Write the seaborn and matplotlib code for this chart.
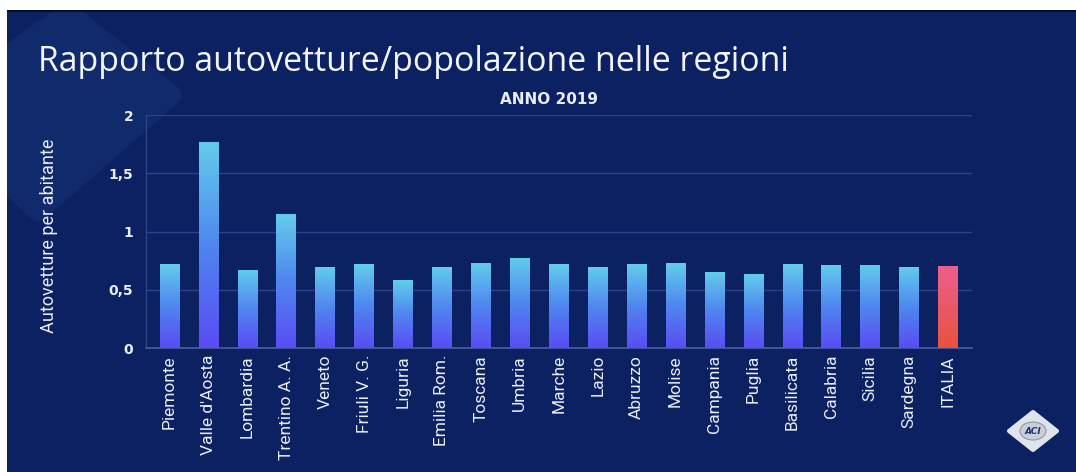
import numpy as np
import pandas as pd
import matplotlib
matplotlib.use("Agg")
import matplotlib.pyplot as plt
import seaborn as sns
from matplotlib.patches import Polygon, Rectangle, Ellipse
from matplotlib.colors import LinearSegmentedColormap

# ---- data -------------------------------------------------------------
regions = ["Piemonte", "Valle d'Aosta", "Lombardia", "Trentino A. A.", "Veneto",
           "Friuli V. G.", "Liguria", "Emilia Rom.", "Toscana", "Umbria",
           "Marche", "Lazio", "Abruzzo", "Molise", "Campania", "Puglia",
           "Basilicata", "Calabria", "Sicilia", "Sardegna", "ITALIA"]
cars_per_inhabitant = [0.72, 1.77, 0.67, 1.15, 0.69, 0.72, 0.58, 0.69, 0.73,
                       0.77, 0.72, 0.69, 0.72, 0.73, 0.65, 0.63, 0.72, 0.71,
                       0.71, 0.69, 0.70]
y_ticks = [0, 0.5, 1, 1.5, 2]
y_tick_labels = ["0", "0,5", "1", "1,5", "2"]

title_text = "Rapporto autovetture/popolazione nelle regioni"
subtitle_text = "ANNO 2019"
y_label_text = "Autovetture per abitante"

# ---- style ------------------------------------------------------------
sns.set_theme(style="white")
plt.rcParams["font.family"] = ["DejaVu Sans"]
NAVY = "#0b2161"
TEXT = "#e8ecf4"
LABEL_FONT = ["Roboto", "DejaVu Sans"]

W, H = 1076, 472
fig = plt.figure(figsize=(W / 100, H / 100), dpi=100, facecolor="white")


def fx(px):
    return px / W


def fy(py):
    return 1 - py / H


# slide background with white margin at the top/left
fig.patches.append(Rectangle((fx(7), 0), 1 - fx(7), fy(10), transform=fig.transFigure,
                             facecolor=NAVY, edgecolor="none", zorder=-3))
fig.patches.append(Rectangle((fx(7), fy(12)), 1 - fx(7), fy(10) - fy(12),
                             transform=fig.transFigure, facecolor="#050f2c",
                             edgecolor="none", zorder=-1))
# soft decorative shape in the top-left corner
deco_pts = [(68, 12), (172, 95), (38, 212), (-70, 110)]
deco = Polygon([(fx(x), fy(y)) for x, y in deco_pts], closed=True,
               transform=fig.transFigure, facecolor="#112a6b", edgecolor="#112a6b",
               linewidth=14, joinstyle="round", zorder=-2)
clip = Rectangle((fx(7), 0), 1 - fx(7), fy(12), transform=fig.transFigure)
deco.set_clip_path(clip)
fig.patches.append(deco)

# ---- axes -------------------------------------------------------------
ax = fig.add_axes([fx(145.7), fy(348), fx(971.7) - fx(145.7), fy(115.3) - fy(348)])
ax.set_facecolor("none")

df = pd.DataFrame({"region": regions, "value": cars_per_inhabitant})
sns.barplot(data=df, x="region", y="value", ax=ax, width=0.5, color="#5a8ff0",
            saturation=1, errorbar=None)

blue_cmap = LinearSegmentedColormap.from_list(
    "bluebar", ["#5a4cf4", "#4f86ef", "#62ccec"])
red_cmap = LinearSegmentedColormap.from_list(
    "redbar", ["#e9523b", "#ea5868", "#ec5f8f"])
grad = np.linspace(1, 0, 256).reshape(-1, 1)

for patch, name in zip(ax.patches, regions):
    x0, w, h = patch.get_x(), patch.get_width(), patch.get_height()
    cmap = red_cmap if name == "ITALIA" else blue_cmap
    ax.imshow(grad, extent=[x0, x0 + w, 0, h], origin="upper", cmap=cmap,
              aspect="auto", zorder=3, vmin=0, vmax=1)
    patch.set_visible(False)

ax.set_xlim(-0.61, len(regions) - 1 + 0.61)
ax.set_ylim(0, 2)
ax.set_yticks(y_ticks)
ax.set_yticklabels(y_tick_labels)
ax.set_xlabel("")
ax.set_ylabel("")

ax.grid(axis="y", color="#2b428a", linewidth=1.0, zorder=1)
ax.grid(axis="x", visible=False)
ax.set_axisbelow(True)
for side in ["top", "right"]:
    ax.spines[side].set_visible(False)
ax.spines["left"].set_color("#31468c")
ax.spines["left"].set_linewidth(0.8)
ax.spines["bottom"].set_color("#4d5f9e")
ax.spines["bottom"].set_linewidth(1.2)

ax.tick_params(axis="y", length=0, pad=9, labelsize=10, labelcolor=TEXT)
for lab in ax.get_yticklabels():
    lab.set_fontweight("bold")
ax.tick_params(axis="x", length=0, pad=5, labelcolor=TEXT)
for lab in ax.get_xticklabels():
    lab.set_rotation(90)
    lab.set_family(LABEL_FONT)
    lab.set_fontsize(12.5)
    lab.set_va("top")
    lab.set_ha("center")

# ---- texts ------------------------------------------------------------
title = fig.text(fx(38), fy(71), title_text, ha="left", va="baseline",
                 color="#f2f4f9", fontsize=18, family=["Open Sans", "DejaVu Sans"])
fig.canvas.draw()
tw = title.get_window_extent().width
title.set_fontsize(18 * 752 / tw)

fig.text(fx(549), fy(104), subtitle_text, ha="center", va="baseline",
         color=TEXT, fontsize=11, fontweight="bold")
fig.text(fx(49), fy(235.5), y_label_text, ha="center", va="center", rotation=90,
         color=TEXT, fontsize=13, family=LABEL_FONT)

# ---- logo -------------------------------------------------------------
cx, cy = 1033, 431
logo = Polygon([(fx(cx - 24), fy(cy)), (fx(cx), fy(cy - 19)), (fx(cx + 24), fy(cy)),
                (fx(cx), fy(cy + 19))], closed=True, transform=fig.transFigure,
               facecolor="#dfe3ea", edgecolor="#dfe3ea", linewidth=3,
               joinstyle="round", zorder=5)
fig.patches.append(logo)
fig.patches.append(Ellipse((fx(cx), fy(cy)), fx(26), fy(0) - fy(18),
                           transform=fig.transFigure, facecolor="#c9cfd9",
                           edgecolor="#8f99ab", linewidth=0.8, zorder=6))
fig.text(fx(cx), fy(cy), "ACI", ha="center", va="center", fontsize=6.5,
         fontweight="bold", fontstyle="italic", color="#1d3570", zorder=7)

fig.savefig("out.png", dpi=100, facecolor=fig.get_facecolor())
